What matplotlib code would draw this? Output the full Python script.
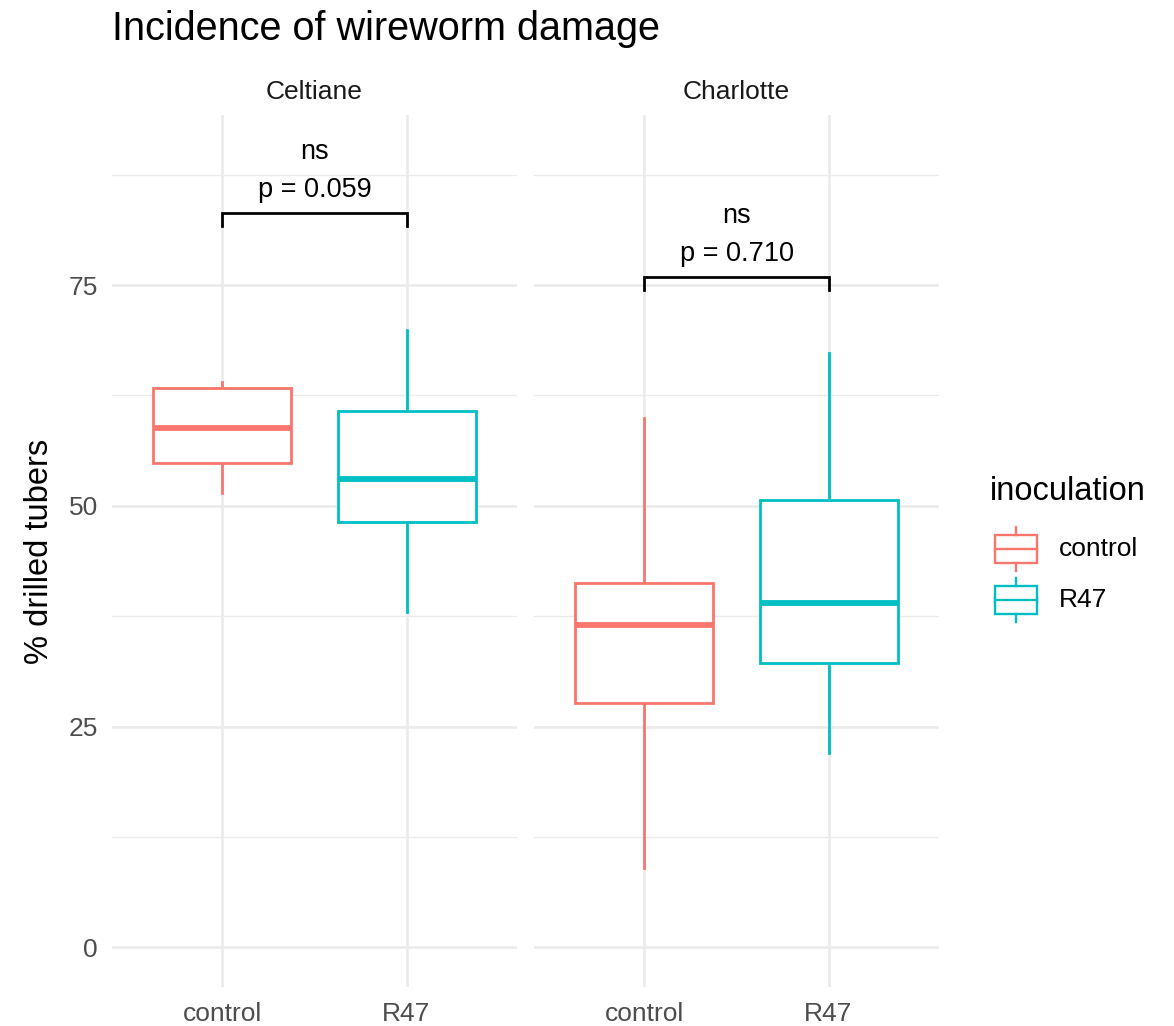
import matplotlib
matplotlib.use("Agg")
import matplotlib.pyplot as plt
from matplotlib.patches import Rectangle

plt.rcParams['font.family'] = ['Liberation Sans', 'DejaVu Sans']

# Box statistics per variety: (whislo, q1, med, q3, whishi)
varieties = ["Celtiane", "Charlotte"]
groups = ["control", "R47"]
colors = {"control": "#F8766D", "R47": "#00BFC4"}

box_stats = {
    "Celtiane": {
        "control": [51.5, 54.9, 58.8, 63.3, 64.0],
        "R47": [38.0, 48.2, 53.0, 60.7, 69.9],
    },
    "Charlotte": {
        "control": [9.0, 27.7, 36.5, 41.3, 59.9],
        "R47": [22.0, 32.2, 39.0, 50.7, 67.3],
    },
}

# Wilcoxon results shown above each panel
bracket_y = {"Celtiane": 83.2, "Charlotte": 75.9}
bracket_drop = 1.5
sig_labels = {"Celtiane": "ns", "Charlotte": "ns"}
p_labels = {"Celtiane": "p = 0.059", "Charlotte": "p = 0.710"}

W, H = 1174, 1026
fig = plt.figure(figsize=(W / 100, H / 100), dpi=100)
fig.patch.set_facecolor("white")

ymin, ymax = -4.49, 94.26
panel_left = [112, 534]
panel_w = 405
panel_top, panel_bot = 115, 987

grid_col = "#EBEBEB"
box_lw = 2.0
axes = []
for i, var in enumerate(varieties):
    ax = fig.add_axes([panel_left[i] / W, 1 - panel_bot / H,
                       panel_w / W, (panel_bot - panel_top) / H])
    axes.append(ax)
    ax.set_xlim(0.4, 2.6)
    ax.set_ylim(ymin, ymax)
    for s in ax.spines.values():
        s.set_visible(False)

    # grid
    for y in [0, 25, 50, 75]:
        ax.axhline(y, color=grid_col, lw=1.9, zorder=0)
    for y in [12.5, 37.5, 62.5, 87.5]:
        ax.axhline(y, color=grid_col, lw=1.0, zorder=0)
    for x in [1, 2]:
        ax.axvline(x, color=grid_col, lw=1.9, zorder=0)

    stats = []
    for g in groups:
        lo, q1, med, q3, hi = box_stats[var][g]
        stats.append(dict(whislo=lo, q1=q1, med=med, q3=q3, whishi=hi, fliers=[]))
    bp = ax.bxp(stats, positions=[1, 2], widths=0.75, showcaps=False,
                showfliers=False, patch_artist=True, manage_ticks=False)
    for j, g in enumerate(groups):
        c = colors[g]
        bp['boxes'][j].set(facecolor="white", edgecolor=c, linewidth=box_lw, zorder=3)
        bp['medians'][j].set(color=c, linewidth=4.2, solid_capstyle="butt", zorder=4)
        for w in bp['whiskers'][2 * j:2 * j + 2]:
            w.set(color=c, linewidth=box_lw, zorder=2)

    # significance bracket
    yb = bracket_y[var]
    ax.plot([1, 1, 2, 2], [yb - bracket_drop, yb, yb, yb - bracket_drop],
            color="black", lw=2.0, solid_joinstyle="miter", zorder=5)
    ax.text(1.5, yb + 1.8, p_labels[var], ha="center", va="baseline",
            fontsize=19.5, color="black")
    ax.text(1.5, yb + 6.1, sig_labels[var], ha="center", va="baseline",
            fontsize=19.5, color="black")

    ax.set_xticks([1, 2])
    ax.set_xticklabels(groups)
    ax.set_yticks([0, 25, 50, 75])
    ax.tick_params(length=0, labelsize=19, labelcolor="#4D4D4D")
    ax.tick_params(axis="x", pad=11)
    ax.tick_params(axis="y", pad=10)
    if i == 1:
        ax.tick_params(axis="y", labelleft=False)

    # facet strip label
    fig.text((panel_left[i] + panel_w / 2) / W, 1 - 99 / H, var,
             ha="center", va="baseline", fontsize=19, color="#1A1A1A")

fig.text(112 / W, 1 - 40 / H, "Incidence of wireworm damage",
         ha="left", va="baseline", fontsize=28.5, color="black")
fig.text(40 / W, 1 - 551 / H, "% drilled tubers", rotation=90,
         ha="center", va="center", fontsize=23.5, color="black")

# legend
fig.text(990 / W, 1 - 492 / H, "inoculation", ha="left", va="center",
         fontsize=23.5, color="black")
leg = fig.add_axes([0, 0, 1, 1], facecolor="none")
leg.set_xlim(0, W)
leg.set_ylim(H, 0)
leg.axis("off")
for k, g in enumerate(groups):
    cy = 549 + 51 * k
    c = colors[g]
    leg.add_patch(Rectangle((995, cy - 14), 42, 28, facecolor="white",
                            edgecolor=c, lw=1.7))
    leg.plot([995, 1037], [cy, cy], color=c, lw=1.7)
    leg.plot([1016, 1016], [cy - 22, cy - 14], color=c, lw=1.7)
    leg.plot([1016, 1016], [cy + 14, cy + 22], color=c, lw=1.7)
    fig.text(1059 / W, 1 - cy / H, g, ha="left", va="center",
             fontsize=19, color="black")

fig.savefig("out.png", dpi=100)
